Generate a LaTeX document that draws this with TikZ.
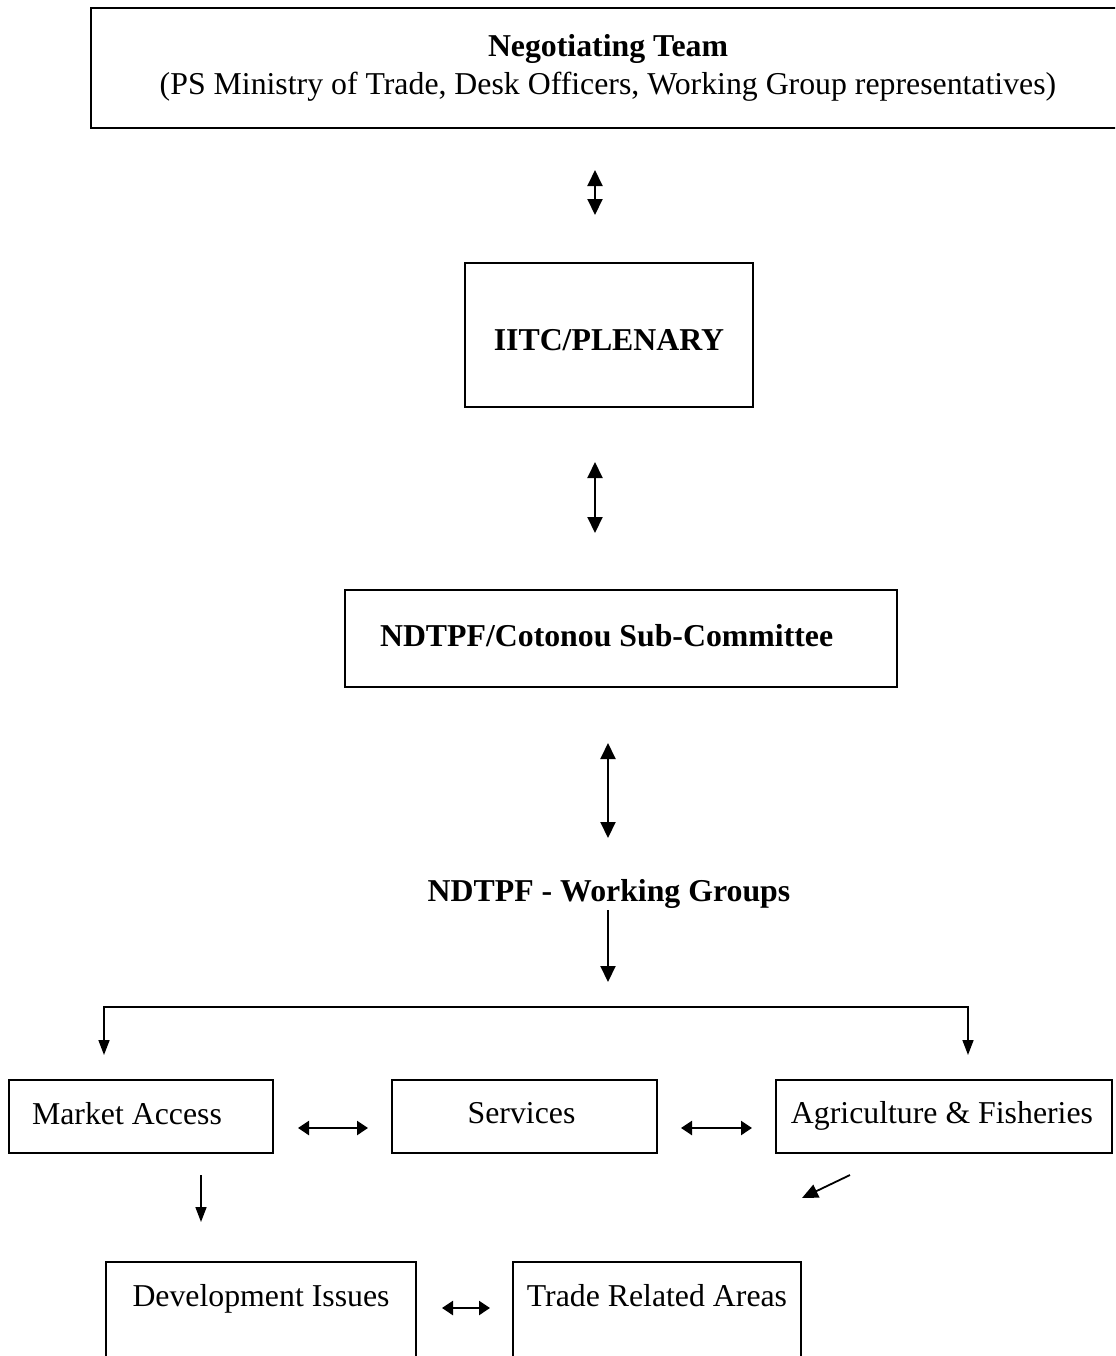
\documentclass[tikz,border=0pt]{standalone}
\usepackage{fontspec}
\setmainfont{Liberation Serif}
\usetikzlibrary{arrows.meta}
\begin{document}
\begin{tikzpicture}[x=0.5pt,y=-0.5pt,
  box/.style={draw, line width=1pt, font=\fontsize{15.9}{19}\selectfont},
  lbl/.style={font=\fontsize{15.9}{19}\selectfont},
  link/.style={line width=1pt, {Triangle[length=8pt,width=7.5pt]}-{Triangle[length=8pt,width=7.5pt]}},
  onelink/.style={line width=1pt, -{Triangle[length=8pt,width=7.5pt]}},
  slink/.style={line width=1.2pt, {Triangle[length=5.5pt,width=7pt]}-{Triangle[length=5.5pt,width=7pt]}},
  down/.style={line width=0.8pt, -{Triangle[length=7.5pt,width=5.5pt]}}]
\clip (0,0) rectangle (1115,1356);
\fill[white] (0,0) rectangle (1115,1356);

% upper chain of committees
\node[box, minimum width=517pt, minimum height=60pt, align=center] (team) at (608,68)
  {\textbf{Negotiating Team}\\(PS Ministry of Trade, Desk Officers, Working Group representatives)};
\node[box, minimum width=144pt, minimum height=72pt,
  label={[lbl, yshift=-2.5pt]center:\textbf{IITC/PLENARY}}] (iitc) at (609,335) {};
\node[box, minimum width=276pt, minimum height=48.5pt,
  label={[lbl, anchor=west, xshift=14.5pt, yshift=1.5pt]west:\textbf{NDTPF/Cotonou Sub-Committee}}] (sub) at (621,638.5) {};
\node[lbl] (wg) at (609,894) {\textbf{NDTPF - Working Groups}};

\coordinate (a1s) at (595,170); \coordinate (a1e) at (595,215);
\coordinate (a2s) at (595,462); \coordinate (a2e) at (595,533);
\coordinate (a3s) at (608,743); \coordinate (a3e) at (608,838);
\coordinate (a4s) at (608,910); \coordinate (a4e) at (608,982);
\draw[link] (a1s) -- (a1e);
\draw[link] (a2s) -- (a2e);
\draw[link] (a3s) -- (a3e);
\draw[onelink] (a4s) -- (a4e);

% branching bracket
\coordinate (bl) at (104,1055); \coordinate (br) at (968,1055);
\draw[line width=0.8pt, {Triangle[length=7.5pt,width=5.5pt]}-{Triangle[length=7.5pt,width=5.5pt]}]
  (bl) -- (104,1007) -- (968,1007) -- (br);

% working groups
\node[box, minimum height=36.5pt, minimum width=132pt,
  label={[lbl, anchor=west, xshift=8.5pt, yshift=1.5pt]west:Market Access}] (ma) at (141,1116.5) {};
\node[box, minimum height=36.5pt, minimum width=132.5pt,
  label={[lbl, xshift=-1.5pt, yshift=1.5pt]center:Services}] (sv) at (524.5,1116.5) {};
\node[box, minimum height=36.5pt, minimum width=168pt,
  label={[lbl, xshift=-1pt, yshift=0.5pt]center:Agriculture \& Fisheries}] (ag) at (944,1116.5) {};

\coordinate (h1s) at (298,1128); \coordinate (h1e) at (368,1128);
\coordinate (h2s) at (681,1128); \coordinate (h2e) at (752,1128);
\draw[slink] (h1s) -- (h1e);
\draw[slink] (h2s) -- (h2e);

\coordinate (d1s) at (201,1175); \coordinate (d1e) at (201,1222);
\draw[down] (d1s) -- (d1e);
\coordinate (g1s) at (850,1175); \coordinate (g1e) at (802,1198);
\draw[line width=0.9pt, -{Triangle[length=8pt,width=7pt]}] (g1s) -- (g1e);

% lower row
\node[box, anchor=north, minimum width=155pt, text height=22pt, text depth=32.5pt, inner ysep=0pt] (dev) at (261,1261) {Development Issues};
\node[box, anchor=north, minimum width=144pt, text height=22pt, text depth=32.5pt, inner ysep=0pt] (tra) at (657,1261) {Trade Related Areas};

\coordinate (h3s) at (442,1308); \coordinate (h3e) at (490,1308);
\draw[slink] (h3s) -- (h3e);
\end{tikzpicture}
\end{document}
